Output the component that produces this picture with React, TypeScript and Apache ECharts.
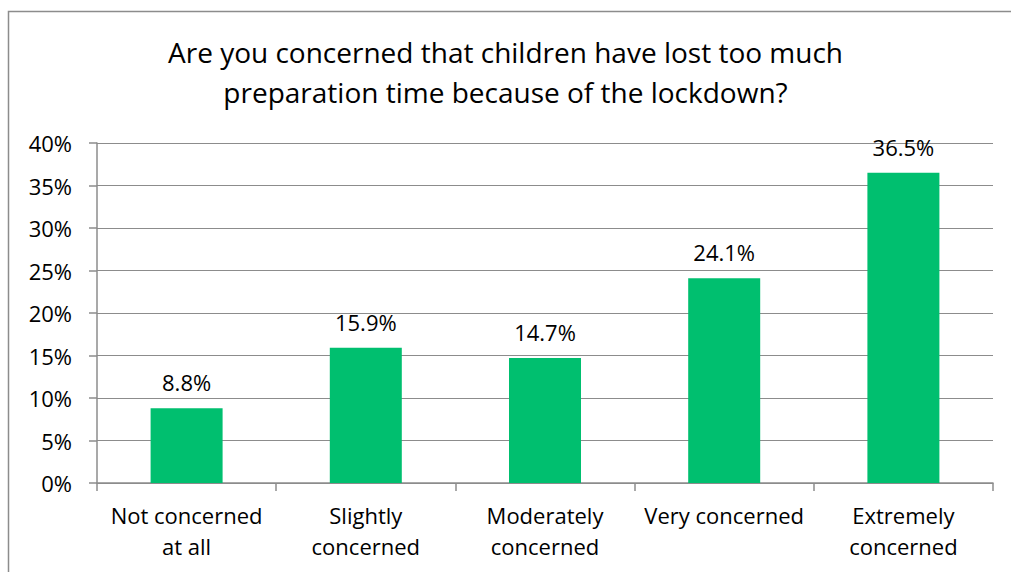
import React, { useEffect, useRef } from "react";
import * as echarts from "echarts";

const titleLines = [
  "Are you concerned that children have lost too much",
  "preparation time because of the lockdown?",
];
const categories = [
  "Not concerned\nat all",
  "Slightly\nconcerned",
  "Moderately\nconcerned",
  "Very concerned",
  "Extremely\nconcerned",
];
const values = [8.8, 15.9, 14.7, 24.1, 36.5];
const yMin = 0;
const yMax = 40;
const yStep = 5;

const FONT = "'Open Sans', Lato, sans-serif";
const AXIS_GRAY = "#8c8c8c";

export default function App() {
  const ref = useRef<HTMLDivElement>(null);
  useEffect(() => {
    if (!ref.current) return;
    const chart = echarts.init(ref.current, undefined, { renderer: "svg" });
    chart.setOption({
      animation: false,
      backgroundColor: "#ffffff",
      textStyle: { fontFamily: FONT },
      title: {
        text: titleLines.join("\n"),
        left: "center",
        top: 27,
        textStyle: {
          fontFamily: FONT,
          fontSize: 28,
          fontWeight: "normal",
          color: "#000000",
          lineHeight: 40,
        },
      },
      graphic: [
        {
          type: "rect",
          shape: { x: 8.5, y: 11.5, width: 1200, height: 800 },
          style: { fill: "none", stroke: "#8c8c8c", lineWidth: 1.5 },
          silent: true,
        },
      ],
      grid: { left: 97, right: 18, top: 143, bottom: 89 },
      xAxis: {
        type: "category",
        data: categories,
        axisLine: { show: true, lineStyle: { color: AXIS_GRAY, width: 1.5 } },
        axisTick: {
          show: true,
          alignWithLabel: false,
          length: 8,
          lineStyle: { color: AXIS_GRAY, width: 1.5 },
        },
        axisLabel: {
          color: "#000000",
          fontFamily: FONT,
          fontSize: 22,
          lineHeight: 31,
          margin: 16,
          interval: 0,
        },
      },
      yAxis: {
        type: "value",
        min: yMin,
        max: yMax,
        interval: yStep,
        axisLine: { show: true, lineStyle: { color: AXIS_GRAY, width: 1.5 } },
        axisTick: { show: true, length: 8, lineStyle: { color: AXIS_GRAY, width: 1.5 } },
        splitLine: { show: true, lineStyle: { color: AXIS_GRAY, width: 1.2 } },
        axisLabel: {
          formatter: "{value}%",
          color: "#000000",
          fontFamily: FONT,
          fontSize: 22,
          margin: 25,
        },
      },
      series: [
        {
          type: "bar",
          data: values,
          barWidth: 72,
          itemStyle: { color: "#00bf6f" },
          label: {
            show: true,
            position: "top",
            distance: 15,
            formatter: (p: any) => p.value.toFixed(1) + "%",
            color: "#000000",
            fontFamily: FONT,
            fontSize: 22,
          },
        },
      ],
    });
    return () => chart.dispose();
  }, []);
  return (
    <div
      ref={ref}
      style={{ position: "absolute", left: 0, top: 0, width: 1011, height: 572 }}
    />
  );
}
